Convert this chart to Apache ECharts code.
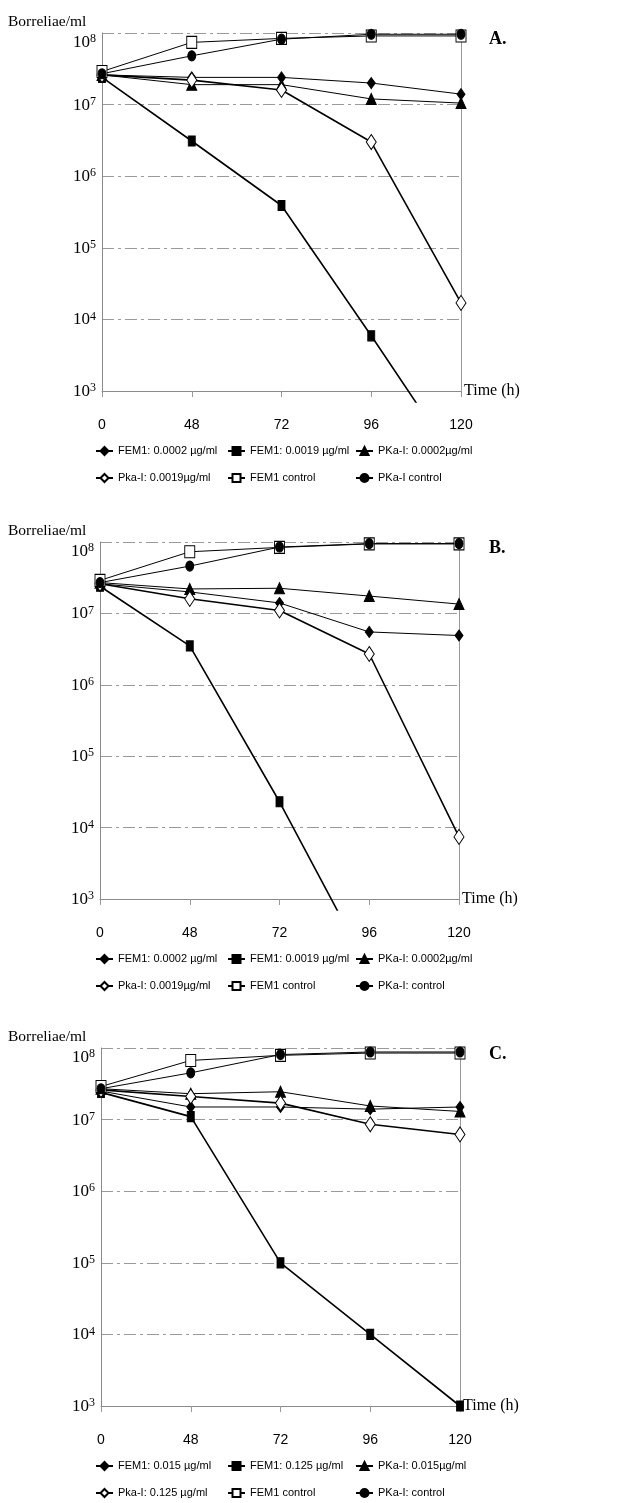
<!DOCTYPE html>
<html>
<head>
<meta charset="utf-8">
<title>Borreliae/ml</title>
<script src="https://cdn.jsdelivr.net/npm/echarts@6/dist/echarts.min.js"></script>
<style>
  html, body { margin: 0; padding: 0; background: #fff; }
  #main { width: 633px; height: 1503px; }
</style>
</head>
<body>
<div id="main"></div>
<script>
// time points (h), drawn equally spaced like the original
const hours = ['0', '48', '72', '96', '120'];

// A
const aNames = ['FEM1: 0.0002 µg/ml', 'FEM1: 0.0019 µg/ml', 'PKa-I: 0.0002µg/ml', 'Pka-I: 0.0019µg/ml', 'FEM1 control', 'PKa-I control'];
const aFem1Low = [2.6e7, 2.4e7, 2.4e7, 2.0e7, 1.4e7];
const aFem1High = [2.4e7, 3.1e6, 3.9e5, 5.9e3, 80];
const aPkaLow = [2.6e7, 1.9e7, 1.9e7, 1.2e7, 1.05e7];
const aPkaHigh = [2.6e7, 2.2e7, 1.6e7, 3.0e6, 1.7e4];
const aFem1Ctrl = [2.9e7, 7.4e7, 8.4e7, 9.1e7, 9.1e7];
const aPkaCtrl = [2.7e7, 4.8e7, 8.2e7, 9.6e7, 9.6e7];

// B
const bNames = ['FEM1: 0.0002 µg/ml', 'FEM1: 0.0019 µg/ml', 'PKa-I: 0.0002µg/ml', 'Pka-I: 0.0019µg/ml', 'FEM1 control', 'PKa-I: control'];
const bFem1Low = [2.6e7, 2.0e7, 1.4e7, 5.5e6, 4.9e6];
const bFem1High = [2.4e7, 3.5e6, 2.3e4, 100, null];
const bPkaLow = [2.7e7, 2.2e7, 2.25e7, 1.75e7, 1.35e7];
const bPkaHigh = [2.6e7, 1.6e7, 1.1e7, 2.7e6, 7.4e3];
const bFem1Ctrl = [2.9e7, 7.3e7, 8.4e7, 9.4e7, 9.4e7];
const bPkaCtrl = [2.7e7, 4.6e7, 8.5e7, 9.5e7, 9.5e7];

// C
const cNames = ['FEM1: 0.015 µg/ml', 'FEM1: 0.125 µg/ml', 'PKa-I: 0.015µg/ml', 'Pka-I: 0.125 µg/ml', 'FEM1 control', 'PKa-I: control'];
const cFem1Low = [2.5e7, 1.5e7, 1.5e7, 1.4e7, 1.5e7];
const cFem1High = [2.4e7, 1.1e7, 1.0e5, 1.0e4, 1.0e3];
const cPkaLow = [2.7e7, 2.3e7, 2.45e7, 1.55e7, 1.3e7];
const cPkaHigh = [2.6e7, 2.1e7, 1.7e7, 8.6e6, 6.2e6];
const cFem1Ctrl = [2.9e7, 6.7e7, 7.9e7, 8.5e7, 8.5e7];
const cPkaCtrl = [2.7e7, 4.5e7, 8.1e7, 8.8e7, 8.8e7];

const panels = [
  {label: 'A.', names: aNames, data: [aFem1Low, aFem1High, aPkaLow, aPkaHigh, aFem1Ctrl, aPkaCtrl],
   top: 33, bottom: 391, left: 102, right: 461},
  {label: 'B.', names: bNames, data: [bFem1Low, bFem1High, bPkaLow, bPkaHigh, bFem1Ctrl, bPkaCtrl],
   top: 542, bottom: 899, left: 100, right: 459},
  {label: 'C.', names: cNames, data: [cFem1Low, cFem1High, cPkaLow, cPkaHigh, cFem1Ctrl, cPkaCtrl],
   top: 1048, bottom: 1406, left: 101, right: 460}
];

// marker per series (same order as names); open markers = white fill
const symbols = ['diamond', 'rect', 'triangle', 'diamond', 'rect', 'circle'];
const symbolFill = ['#000', '#000', '#000', '#fff', '#fff', '#000'];
const symbolSizes = [[8, 11], [7, 10], [10, 11], [10, 15], [10, 12], [8, 10]];
const lineWidths = [1, 1.6, 1, 1.6, 1, 1];

const serif = '"Liberation Serif", "DejaVu Serif", serif';
const sans = '"Liberation Sans", Arial, sans-serif';
const tail = 11; // lines run a little below the 10^3 axis before being cut

let chartDom = document.getElementById('main');
let myChart = echarts.init(chartDom);

let grid = [], xAxis = [], yAxis = [], series = [], legend = [], graphic = [];

panels.forEach((p) => {
  const h = p.bottom - p.top;
  const w = p.right - p.left;
  const g1 = grid.length, g2 = g1 + 1;

  // visible frame
  grid.push({left: p.left, top: p.top, width: w, height: h});
  // same frame, stretched a bit downward, holds the curves
  grid.push({left: p.left, top: p.top, width: w, height: h + tail});

  xAxis.push({
    gridIndex: g1, type: 'category', data: hours, boundaryGap: false,
    name: 'Time (h)', nameLocation: 'end', nameGap: 3,
    nameTextStyle: {fontFamily: serif, fontSize: 16, color: '#000', align: 'left', verticalAlign: 'middle'},
    axisLine: {lineStyle: {color: '#8a8a8a', width: 1}},
    axisTick: {show: true, length: 6, lineStyle: {color: '#999'}},
    axisLabel: {margin: 27, fontFamily: sans, fontSize: 14, color: '#000'},
    splitLine: {show: true, interval: (i) => i === hours.length - 1, lineStyle: {color: '#999', width: 1}}
  });
  xAxis.push({gridIndex: g2, type: 'category', data: hours, boundaryGap: false, show: false});

  yAxis.push({
    gridIndex: g1, type: 'log', logBase: 10, min: 1e3, max: 1e8, splitNumber: 5,
    axisLine: {show: true, lineStyle: {color: '#8a8a8a', width: 1}},
    axisTick: {show: false},
    axisLabel: {
      margin: 6, color: '#000',
      verticalAlignMinLabel: 'bottom', verticalAlignMaxLabel: 'top',
      formatter: (v) => '{b|10}{e|' + Math.round(Math.log10(v)) + '}',
      rich: {
        b: {fontFamily: serif, fontSize: 17, lineHeight: 18, verticalAlign: 'bottom', color: '#000'},
        e: {fontFamily: serif, fontSize: 12, lineHeight: 12, verticalAlign: 'top', color: '#000'}
      }
    },
    splitLine: {show: true, showMinLine: false, lineStyle: {color: '#9a9a9a', width: 1, type: [12, 4, 3, 4]}}
  });
  yAxis.push({
    gridIndex: g2, type: 'log', logBase: 10, show: false,
    min: Math.pow(10, 3 - tail * 5 / h), max: 1e8
  });

  p.data.forEach((d, i) => {
    series.push({
      name: p.names[i], type: 'line', xAxisIndex: g2, yAxisIndex: g2,
      data: d, symbol: symbols[i], symbolSize: symbolSizes[i], showSymbol: true,
      lineStyle: {color: '#000', width: lineWidths[i]},
      itemStyle: {color: symbolFill[i], borderColor: '#000', borderWidth: 1},
      emphasis: {disabled: true}, clip: true
    });
  });

  // legend: three columns, two rows
  const colX = [95, 227, 355];
  colX.forEach((x, c) => {
    legend.push({
      orient: 'vertical', left: x, top: p.bottom + 52, padding: 0,
      itemGap: 11, itemWidth: 17, itemHeight: 10, selectedMode: false,
      data: [p.names[c], p.names[c + 3]],
      textStyle: {fontFamily: sans, fontSize: 11, lineHeight: 16, color: '#000'}
    });
  });

  graphic.push({
    type: 'text', x: 8, y: p.top - 11,
    style: {text: 'Borreliae/ml', font: '15.5px ' + serif, fill: '#000', align: 'left', verticalAlign: 'middle'}
  });
  graphic.push({
    type: 'text', x: 489, y: p.top + 6,
    style: {text: p.label, font: 'bold 18px ' + serif, fill: '#000', align: 'left', verticalAlign: 'middle'}
  });
});

let option = {
  animation: false,
  backgroundColor: '#fff',
  grid: grid,
  xAxis: xAxis,
  yAxis: yAxis,
  legend: legend,
  graphic: graphic,
  series: series
};

myChart.setOption(option);
</script>
</body>
</html>
